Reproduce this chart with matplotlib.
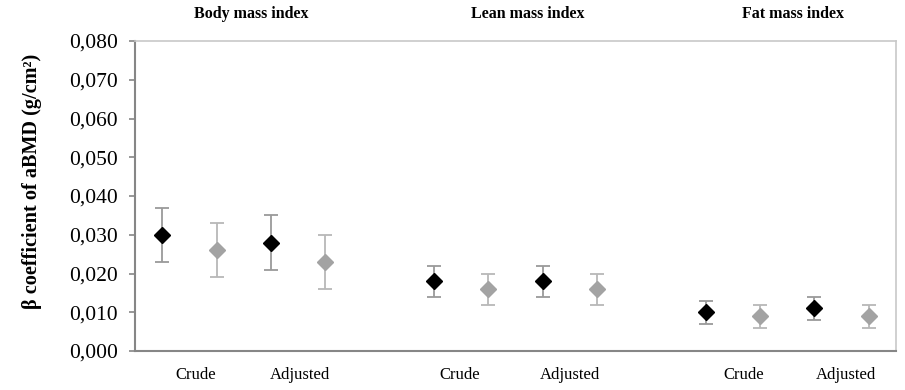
import matplotlib
matplotlib.use("Agg")
import matplotlib.pyplot as plt
from matplotlib.ticker import FuncFormatter

# Beta coefficients and 95% CI bounds (g/cm2)
groups = ["Body mass index", "Lean mass index", "Fat mass index"]
models = ["Crude", "Adjusted"]

# order within each group: crude (black, grey), adjusted (black, grey)
beta_black = [0.030, 0.028, 0.018, 0.018, 0.010, 0.011]
low_black = [0.023, 0.021, 0.014, 0.014, 0.007, 0.008]
high_black = [0.037, 0.035, 0.022, 0.022, 0.013, 0.014]

beta_grey = [0.026, 0.023, 0.016, 0.016, 0.009, 0.009]
low_grey = [0.019, 0.016, 0.012, 0.012, 0.006, 0.006]
high_grey = [0.033, 0.030, 0.020, 0.020, 0.012, 0.012]

y_ticks = [0.000, 0.010, 0.020, 0.030, 0.040, 0.050, 0.060, 0.070, 0.080]

plt.rcParams["font.family"] = ["Liberation Serif", "DejaVu Serif"]

fig = plt.figure(figsize=(9.05, 3.90), dpi=100)
ax = fig.add_axes([135 / 905, 1 - 351 / 390, (896 - 135) / 905, (351 - 41) / 390])

# slot layout: 4 points per group, one empty slot between groups
xb, xg = [], []
for g in range(3):
    base = g * 5
    xb += [base + 0, base + 2]
    xg += [base + 1, base + 3]

def draw(xs, ys, lo, hi, color, ecolor):
    yerr = [[y - l for y, l in zip(ys, lo)], [h - y for y, h in zip(ys, hi)]]
    ax.errorbar(xs, ys, yerr=yerr, fmt="none", ecolor=ecolor, elinewidth=1.3,
                capsize=4.8, capthick=1.3, zorder=2)
    ax.plot(xs, ys, linestyle="none", marker="D", markersize=8, color=color,
            markeredgecolor=color, zorder=3)

draw(xb, beta_black, low_black, high_black, "black", "#9a9a9a")
draw(xg, beta_grey, low_grey, high_grey, "#a3a3a3", "#b8b8b8")

ax.set_xlim(-0.5, 13.5)
ax.set_ylim(0, 0.080)
ax.set_yticks(y_ticks)
ax.yaxis.set_major_formatter(FuncFormatter(lambda v, p: f"{v:.3f}".replace(".", ",")))
ax.tick_params(axis="y", labelsize=15.5, length=4.5, color="#868686", width=1.2, pad=8)
ax.set_xticks([])

for side in ["left", "bottom"]:
    ax.spines[side].set_color("#868686")
    ax.spines[side].set_linewidth(1.5)
for side in ["top", "right"]:
    ax.spines[side].set_color("#c8c8c8")
    ax.spines[side].set_linewidth(1.2)

# model labels under each pair, group titles above
label_pos = [(0.61, 2.54), (0.48, 2.50), (0.69, 2.58)]
title_pos = [1.63, 1.73, 1.60]
for g in range(3):
    base = g * 5
    for k, m in enumerate(models):
        ax.text(base + label_pos[g][k], -0.0061, m, ha="center", va="center",
                fontsize=12)
    ax.text(base + title_pos[g], 0.0870, groups[g], ha="center", va="center",
            fontsize=11.5, fontweight="bold")

fig.text(31.5 / 905, (390 - 181) / 390, "β coefficient of aBMD (g/cm²)", rotation=90,
         ha="center", va="center", fontsize=14.6, fontweight="bold")

fig.savefig("out.png", dpi=100, facecolor="white")
